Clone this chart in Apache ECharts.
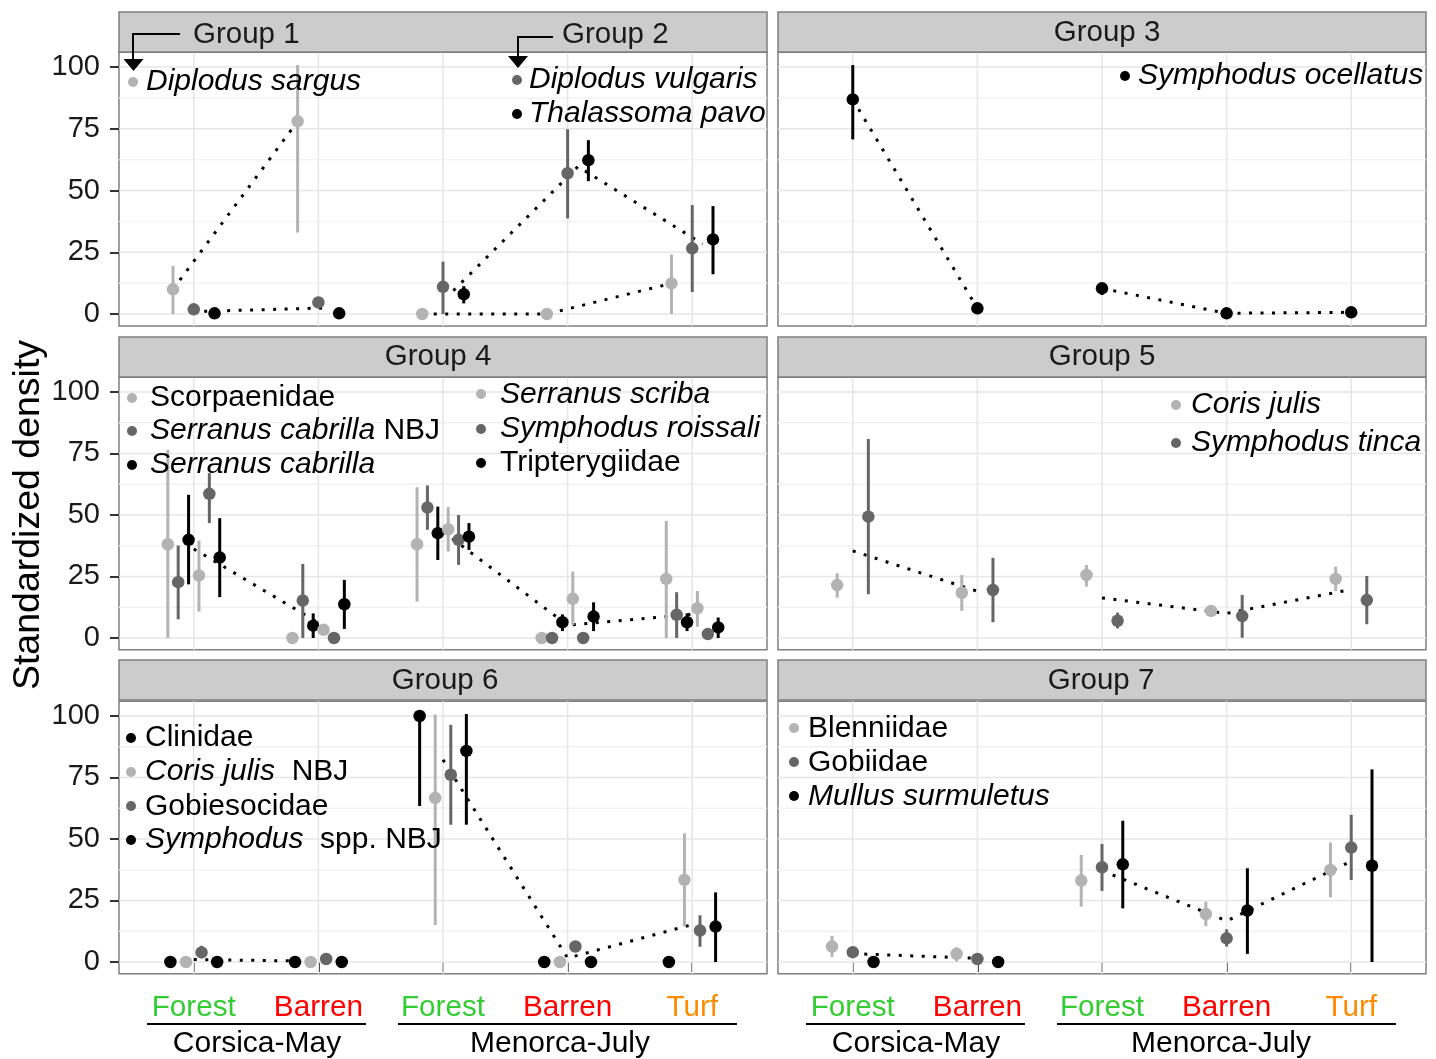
<!DOCTYPE html>
<html><head><meta charset="utf-8">
<script src="https://cdn.jsdelivr.net/npm/echarts@6/dist/echarts.min.js"></script>
<style>html,body{margin:0;padding:0;background:#fff}#c{width:1436px;height:1059px}</style>
</head><body><div id="c"></div><script>
// ---------------- DATA ----------------
const siteLabels = ['Forest', 'Barren', 'Forest', 'Barren', 'Turf'];
const regionLabels = ['Corsica-May', 'Menorca-July'];
const yTickValues = [0, 25, 50, 75, 100];
const yMinorValues = [12.5, 37.5, 62.5, 87.5];
const groupTitles = ['Group 1', 'Group 2', 'Group 3', 'Group 4', 'Group 5', 'Group 6', 'Group 7'];

// Group 1
const sargusMean = [10, 78, 0, 0, 12.4];
const sargusLow  = [0, 33, 0, 0, 0];
const sargusHigh = [19.5, 100.8, 0, 0, 24.1];
const group1LineCorsica = [10, 78];
const group1LineMenorca = [0, 0, 12.4];
// Group 2
const vulgarisMean = [1.9, 4.7, 11, 57, 26.6];
const vulgarisLow  = [1.9, 2.5, 0, 38.7, 8.9];
const vulgarisHigh = [1.9, 6.8, 21.2, 74.8, 44.1];
const pavoMean = [0.3, 0.3, 8, 62.3, 30.2];
const pavoLow  = [0.3, 0.3, 4.3, 53.8, 16.1];
const pavoHigh = [0.3, 0.3, 11.3, 70.4, 43.7];
const group2LineCorsica = [1.1, 2.5];
const group2LineMenorca = [9.5, 59.7, 28.4];
// Group 3
const ocellatusMean = [86.9, 2.3, 10.4, 0.3, 0.7];
const ocellatusLow  = [70.7, 2.3, 7.7, 0.3, 0.7];
const ocellatusHigh = [100.8, 2.3, 12.4, 0.3, 0.7];
const group3LineCorsica = [86.9, 2.3];
const group3LineMenorca = [10.4, 0.3, 0.7];
// Group 4
const scorpMean = [38.1, 0, 38.1, 0, 24];
const scorpLow  = [0, 0, 14.8, 0, 0];
const scorpHigh = [76.5, 0, 61.3, 0, 47.6];
const cabNbjMean = [22.7, 15.2, 53, 0, 9.4];
const cabNbjLow  = [7.6, 0, 44, 0, 0];
const cabNbjHigh = [37.6, 30.1, 62, 0, 18.6];
const cabMean = [39.9, 5, 42.6, 6.4, 6.4];
const cabLow  = [21.8, 0, 31.7, 2.8, 2.8];
const cabHigh = [58.2, 10, 53.4, 9.6, 10];
const scribaMean = [25.4, 3.3, 44.2, 15.9, 12.1];
const scribaLow  = [10.7, 1.1, 35.1, 5.3, 4.6];
const scribaHigh = [39.6, 5.1, 53.2, 27, 19.1];
const roissaliMean = [58.6, 0, 39.9, 0, 1.6];
const roissaliLow  = [46.7, 0, 29.7, 0, 1.6];
const roissaliHigh = [67, 0, 50, 0, 1.6];
const triptMean = [32.7, 13.7, 41.2, 8.7, 4.3];
const triptLow  = [16.6, 3.7, 35.8, 2.8, 0];
const triptHigh = [48.7, 23.6, 46.7, 14.5, 8.3];
const group4LineCorsica = [36.2, 6.2];
const group4LineMenorca = [43.2, 5.2, 9.6];
// Group 5
const corisMean = [21.5, 18.4, 25.6, 11, 24];
const corisLow  = [16.4, 11, 20.9, 8.7, 19.1];
const corisHigh = [26.3, 25.6, 29.7, 12.7, 29];
const tincaMean = [49.3, 19.5, 7, 8.9, 15.4];
const tincaLow  = [17.8, 6.4, 3.9, 0.1, 5.6];
const tincaHigh = [80.9, 32.6, 10.3, 17.5, 25.2];
const group5LineCorsica = [35.4, 19];
const group5LineMenorca = [16.3, 10, 19.7];
// Group 6
const clinMean = [0, 0, 100, 0, 0];
const clinLow  = [0, 0, 63.4, 0, 0];
const clinHigh = [0, 0, 100, 0, 0];
const corisNbjMean = [0, 0, 66.7, 0, 33.4];
const corisNbjLow  = [0, 0, 15, 0, 14.4];
const corisNbjHigh = [0, 0, 100.6, 0, 52.3];
const gobiesMean = [3.9, 1.2, 76.1, 6.3, 12.8];
const gobiesLow  = [1.6, 1.2, 55.8, 6.3, 6.2];
const gobiesHigh = [6.6, 1.2, 96.4, 6.3, 19];
const symphNbjMean = [0, 0, 85.8, 0, 14.4];
const symphNbjLow  = [0, 0, 55.8, 0, 0];
const symphNbjHigh = [0, 0, 100.8, 0, 28.3];
const group6LineCorsica = [1.0, 0.3];
const group6LineMenorca = [82.2, 1.6, 15.2];
// Group 7
const blenMean = [6.3, 3.3, 33.1, 19.5, 37.4];
const blenLow  = [2, 0.2, 22.5, 14.6, 26.3];
const blenHigh = [10.6, 6, 43.5, 24.5, 48.5];
const gobiiMean = [4, 1.2, 38.5, 9.6, 46.5];
const gobiiLow  = [4, 1.2, 28.9, 6.3, 33.3];
const gobiiHigh = [4, 1.2, 48, 13.3, 59.8];
const mullusMean = [0, 0, 39.7, 20.9, 39.1];
const mullusLow  = [0, 0, 21.8, 3.3, 0];
const mullusHigh = [0, 0, 57.4, 38.1, 78.3];
const group7LineCorsica = [3.4, 1.5];
const group7LineMenorca = [37.1, 16.7, 41];

// ---------------- STYLE / LAYOUT ----------------
const FONT = '"Liberation Sans", Arial, Helvetica, sans-serif';
const LIGHT = '#b3b3b3', DARK = '#666666', BLACK = '#000000';
const XMIN = 0.4, XMAX = 5.6, YMIN = -4.8, YMAX = 106;
const DODGE = 0.5;
const LEG = 30, STRIP = 29.5;

const sp = (mean, low, high, color) => ({ mean, low, high, color });
const panels = [
  { species: [sp(sargusMean, sargusLow, sargusHigh, LIGHT), sp(vulgarisMean, vulgarisLow, vulgarisHigh, DARK), sp(pavoMean, pavoLow, pavoHigh, BLACK)],
    lines: [{ members: [0], c: group1LineCorsica, m: group1LineMenorca }, { members: [1, 2], c: group2LineCorsica, m: group2LineMenorca }] },
  { species: [sp(ocellatusMean, ocellatusLow, ocellatusHigh, BLACK)],
    lines: [{ members: [0], c: group3LineCorsica, m: group3LineMenorca }] },
  { species: [sp(scorpMean, scorpLow, scorpHigh, LIGHT), sp(cabNbjMean, cabNbjLow, cabNbjHigh, DARK), sp(cabMean, cabLow, cabHigh, BLACK),
              sp(scribaMean, scribaLow, scribaHigh, LIGHT), sp(roissaliMean, roissaliLow, roissaliHigh, DARK), sp(triptMean, triptLow, triptHigh, BLACK)],
    lines: [{ members: [0, 1, 2, 3, 4, 5], c: group4LineCorsica, m: group4LineMenorca }] },
  { species: [sp(corisMean, corisLow, corisHigh, LIGHT), sp(tincaMean, tincaLow, tincaHigh, DARK)],
    lines: [{ members: [0, 1], c: group5LineCorsica, m: group5LineMenorca }] },
  { species: [sp(clinMean, clinLow, clinHigh, BLACK), sp(corisNbjMean, corisNbjLow, corisNbjHigh, LIGHT), sp(gobiesMean, gobiesLow, gobiesHigh, DARK), sp(symphNbjMean, symphNbjLow, symphNbjHigh, BLACK)],
    lines: [{ members: [0, 1, 2, 3], c: group6LineCorsica, m: group6LineMenorca }] },
  { species: [sp(blenMean, blenLow, blenHigh, LIGHT), sp(gobiiMean, gobiiLow, gobiiHigh, DARK), sp(mullusMean, mullusLow, mullusHigh, BLACK)],
    lines: [{ members: [0, 1, 2], c: group7LineCorsica, m: group7LineMenorca }] }
];

const gridRects = [
  { left: 119, top: 52.2, width: 648, height: 273.7 },
  { left: 778, top: 52.2, width: 648, height: 273.7 },
  { left: 119, top: 377.2, width: 648, height: 272.6 },
  { left: 778, top: 377.2, width: 648, height: 272.6 },
  { left: 119, top: 701.2, width: 648, height: 272.6 },
  { left: 778, top: 701.2, width: 648, height: 272.6 }
];

const dodgeOffset = (i, n) => (i - (n - 1) / 2) * DODGE / n;

const grids = [], xAxes = [], yAxes = [], series = [];
const siteRichKey = ['f', 'b', 'f', 'b', 't'];

panels.forEach((p, g) => {
  const isLeft = g % 2 === 0, isBottom = g >= 4;
  grids.push(Object.assign({ show: true, borderColor: '#7f7f7f', borderWidth: 1.5, backgroundColor: '#fff', containLabel: false, outerBoundsMode: 'none' }, gridRects[g]));
  xAxes.push({
    gridIndex: g, type: 'value', min: XMIN, max: XMAX,
    axisLine: { show: false }, splitLine: { show: false },
    axisTick: { show: isBottom, customValues: [1, 2, 3, 4, 5], length: 10, lineStyle: { color: '#333', width: 2 } },
    axisLabel: {
      show: isBottom, customValues: [1, 2, 3, 4, 5], margin: 19,
      formatter: v => { const i = Math.round(v) - 1; return '{' + siteRichKey[i] + '|' + siteLabels[i] + '}'; },
      rich: {
        f: { color: '#33cc33', fontSize: 29.7, fontFamily: FONT },
        b: { color: '#ff0000', fontSize: 29.7, fontFamily: FONT },
        t: { color: '#ff8c00', fontSize: 29.7, fontFamily: FONT }
      }
    }
  });
  yAxes.push({
    gridIndex: g, type: 'value', min: YMIN, max: YMAX,
    axisLine: { show: false }, splitLine: { show: false },
    axisTick: { show: isLeft, customValues: yTickValues, length: 9, lineStyle: { color: '#333', width: 2 } },
    axisLabel: { show: isLeft, customValues: yTickValues, fontSize: 29, color: '#1a1a1a', margin: 19, fontFamily: FONT }
  });

  // gridlines
  const gl = [];
  yTickValues.forEach(v => gl.push([1, v, 0]));
  yMinorValues.forEach(v => gl.push([1, v, 1]));
  [1, 2, 3, 4, 5].forEach(v => gl.push([v, 50, 2]));
  series.push({
    type: 'custom', xAxisIndex: g, yAxisIndex: g, z: 1, silent: true, data: gl,
    renderItem: (params, api) => {
      const a = api.value(0), b = api.value(1), k = api.value(2);
      let p1, p2;
      if (k < 2) { p1 = api.coord([XMIN, b]); p2 = api.coord([XMAX, b]); }
      else { p1 = api.coord([a, YMIN]); p2 = api.coord([a, YMAX]); }
      return { type: 'line', shape: { x1: p1[0], y1: p1[1], x2: p2[0], y2: p2[1] },
        style: { stroke: k === 1 ? '#f2f2f2' : '#e6e6e6', lineWidth: 1.5 } };
    }
  });

  const n = p.species.length;
  // group mean dotted lines
  p.lines.forEach(L => {
    const off = L.members.reduce((s, i) => s + dodgeOffset(i, n), 0) / L.members.length;
    const ls = { color: '#000', width: 3, type: [3, 8.5], cap: 'butt' };
    series.push({ type: 'line', xAxisIndex: g, yAxisIndex: g, z: 3, symbol: 'none', silent: true, lineStyle: ls,
      data: L.c.map((v, i) => [i + 1 + off, v]) });
    series.push({ type: 'line', xAxisIndex: g, yAxisIndex: g, z: 3, symbol: 'none', silent: true, lineStyle: ls,
      data: L.m.map((v, i) => [i + 3 + off, v]) });
  });

  // error bars + points
  p.species.forEach((s, i) => {
    const off = dodgeOffset(i, n);
    series.push({
      type: 'custom', xAxisIndex: g, yAxisIndex: g, z: 4, silent: true,
      data: s.mean.map((m, k) => [k + 1 + off, s.low[k], s.high[k]]),
      renderItem: (params, api) => {
        const p1 = api.coord([api.value(0), api.value(1)]);
        const p2 = api.coord([api.value(0), api.value(2)]);
        return { type: 'line', shape: { x1: p1[0], y1: p1[1], x2: p2[0], y2: p2[1] }, style: { stroke: s.color, lineWidth: 3 } };
      }
    });
    series.push({
      type: 'scatter', xAxisIndex: g, yAxisIndex: g, z: 5, symbol: 'circle', symbolSize: 12.5, silent: true,
      itemStyle: { color: s.color, opacity: 1 },
      data: s.mean.map((m, k) => [k + 1 + off, m])
    });
  });
});

// ---------------- GRAPHICS (strips, annotations) ----------------
const graphics = [];
const T = (x, y, text, opt) => graphics.push(Object.assign({
  type: 'text', x, y, z: 100,
  style: Object.assign({ text, fontSize: LEG, fontFamily: FONT, fill: '#000', align: 'left', verticalAlign: 'middle',
    rich: { i: { fontStyle: 'italic', fontSize: LEG, fontFamily: FONT, fill: '#000' } } }, opt || {})
}));
const dot = (x, y, color) => graphics.push({ type: 'circle', z: 100, shape: { cx: x, cy: y, r: 5 }, style: { fill: color } });
const strip = (x, y, w, h) => graphics.push({ type: 'rect', z: 90, shape: { x, y, width: w, height: h }, style: { fill: '#cccccc', stroke: '#7f7f7f', lineWidth: 1.5 } });

[[119, 12], [778, 12], [119, 337], [778, 337], [119, 660], [778, 660]].forEach(([x, y]) => strip(x, y, 648, 40));
const st = (x, y, t, align) => T(x, y, t, { fontSize: STRIP, fill: '#1a1a1a', align: align || 'left' });
st(193, 35, groupTitles[0]);
st(562, 35, groupTitles[1]);
st(1107, 33, groupTitles[2], 'center');
st(438, 357, groupTitles[3], 'center');
st(1102, 357, groupTitles[4], 'center');
st(445, 681, groupTitles[5], 'center');
st(1101, 681, groupTitles[6], 'center');

// arrows from strip labels
graphics.push({ type: 'polyline', z: 100, shape: { points: [[180, 34], [133, 34], [133, 60]] }, style: { stroke: '#000', lineWidth: 2, fill: null } });
graphics.push({ type: 'polygon', z: 100, shape: { points: [[123.5, 59], [143.5, 59], [133.5, 71]] }, style: { fill: '#000' } });
graphics.push({ type: 'polyline', z: 100, shape: { points: [[553, 37], [518, 37], [518, 57]] }, style: { stroke: '#000', lineWidth: 2, fill: null } });
graphics.push({ type: 'polygon', z: 100, shape: { points: [[508, 56], [528, 56], [518, 68]] }, style: { fill: '#000' } });

// legends
dot(133, 82, LIGHT); T(146, 82, '{i|Diplodus sargus}');
dot(517, 80, DARK); T(529, 80, '{i|Diplodus vulgaris}');
dot(517, 114, BLACK); T(529, 114, '{i|Thalassoma pavo}');
dot(1125, 76, BLACK); T(1138, 76, '{i|Symphodus ocellatus}');
dot(132, 398, LIGHT); T(150, 398, 'Scorpaenidae');
dot(132, 431, DARK); T(150, 431, '{i|Serranus cabrilla} NBJ');
dot(132, 465, BLACK); T(150, 465, '{i|Serranus cabrilla}');
dot(481, 394, LIGHT); T(500, 395, '{i|Serranus scriba}');
dot(481, 429, DARK); T(500, 429, '{i|Symphodus roissali}');
dot(481, 463, BLACK); T(500, 463, 'Tripterygiidae');
dot(1176, 405, LIGHT); T(1191, 405, '{i|Coris julis}');
dot(1176, 443, DARK); T(1191, 443, '{i|Symphodus tinca}');
dot(131, 738, BLACK); T(145, 738, 'Clinidae');
dot(131, 772, LIGHT); T(145, 772, '{i|Coris julis}  NBJ');
dot(131, 806, DARK); T(145, 807, 'Gobiesocidae');
dot(131, 840, BLACK); T(145, 840, '{i|Symphodus}  spp. NBJ');
dot(794, 728, LIGHT); T(808, 729, 'Blenniidae');
dot(794, 762, DARK); T(808, 763, 'Gobiidae');
dot(794, 796, BLACK); T(808, 797, '{i|Mullus surmuletus}');

// region underlines + labels
[[147, 366], [398, 737], [806, 1025], [1057, 1396]].forEach(([a, b]) =>
  graphics.push({ type: 'line', z: 100, shape: { x1: a, y1: 1024, x2: b, y2: 1024 }, style: { stroke: '#000', lineWidth: 2 } }));
T(257, 1044, regionLabels[0], { align: 'center' });
T(560, 1044, regionLabels[1], { align: 'center' });
T(916, 1044, regionLabels[0], { align: 'center' });
T(1221, 1044, regionLabels[1], { align: 'center' });

// y axis title
graphics.push({ type: 'text', x: 29, y: 515, rotation: Math.PI / 2, z: 100,
  style: { text: 'Standardized density', fontSize: 37.5, fontFamily: FONT, fill: '#000', align: 'center', verticalAlign: 'middle' } });

const chart = echarts.init(document.getElementById('c'), null, { renderer: 'canvas' });
chart.setOption({
  animation: false,
  backgroundColor: '#ffffff',
  grid: grids, xAxis: xAxes, yAxis: yAxes, series,
  graphic: { elements: graphics }
});
</script></body></html>
